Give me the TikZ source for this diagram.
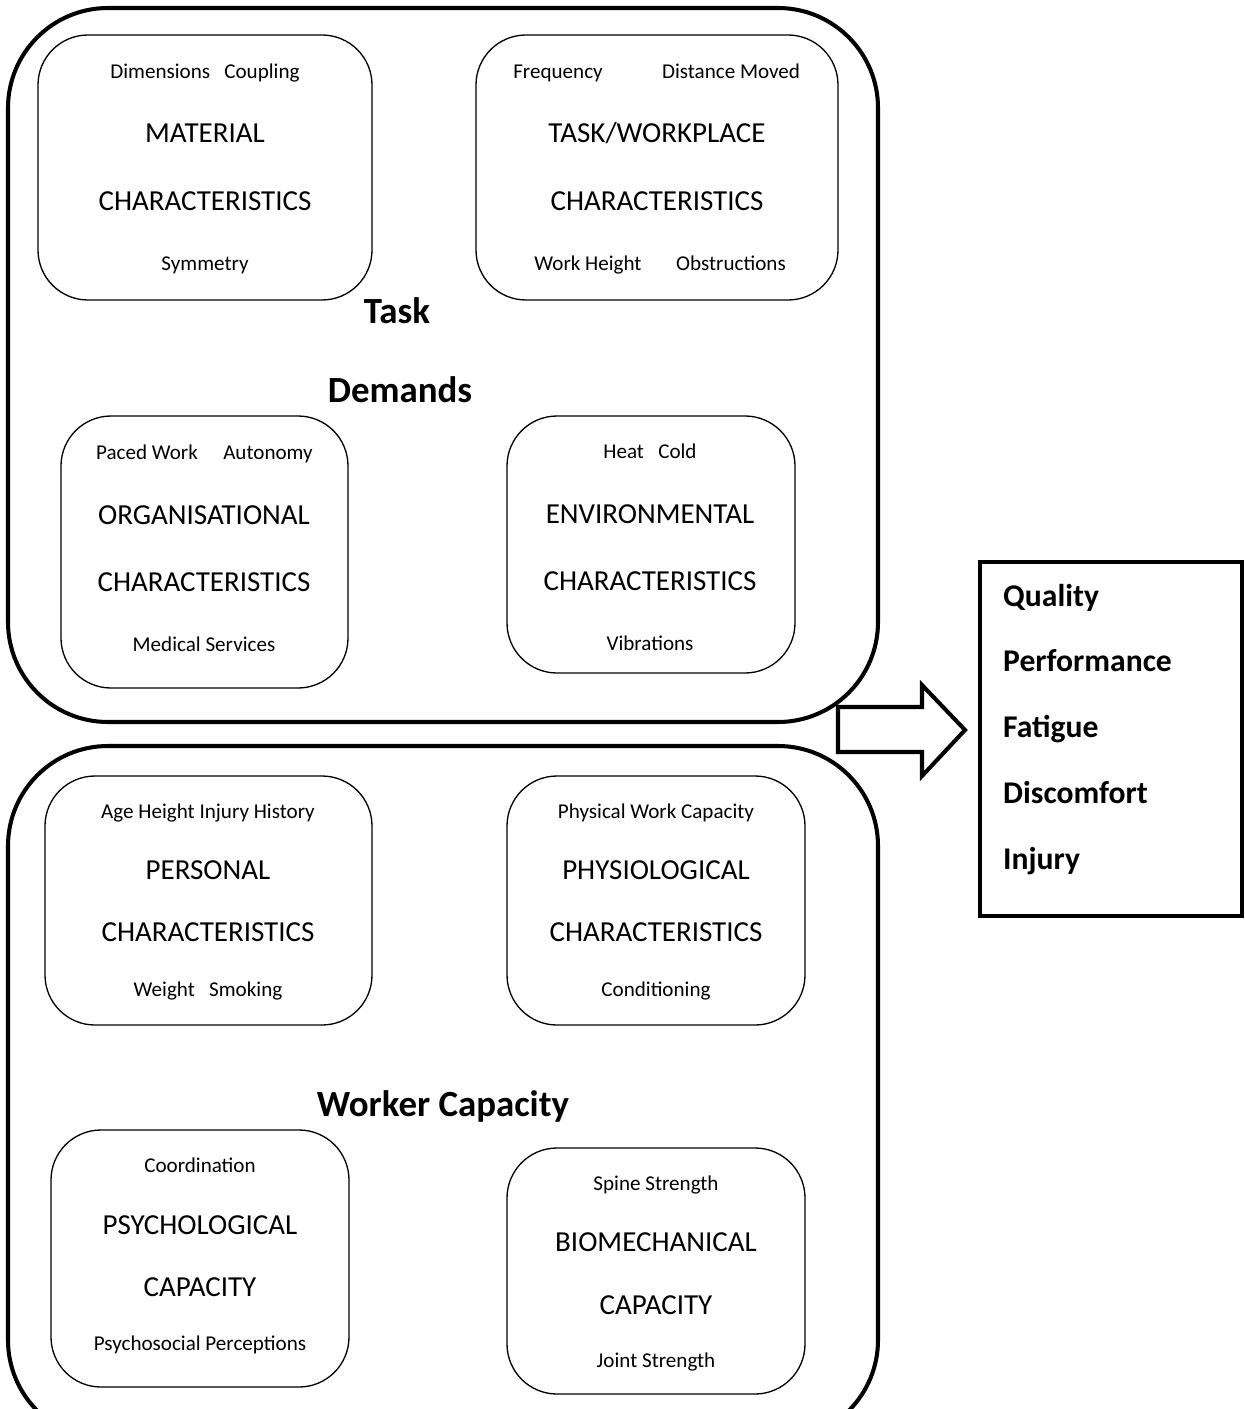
\documentclass[tikz,border=0pt]{standalone}
\usepackage{fontspec}
\setmainfont{Carlito}
\tikzset{
	outer/.style={line width=2.3pt, rounded corners=2cm},
	inner/.style={line width=0.75pt, rounded corners=1cm},
	small/.style={font=\fontsize{12}{14}\selectfont, text height=7.7pt, text depth=0pt},
	big/.style={font=\fontsize{16.5}{19}\selectfont, text height=10.6pt, text depth=0pt},
	head/.style={font=\fontsize{21}{25}\selectfont\bfseries},
	result/.style={font=\fontsize{18}{22}\selectfont\bfseries, anchor=west, text height=11.6pt, text depth=0pt}
}
\begin{document}
\begin{tikzpicture}[x=0.02cm, y=-0.02cm]
	\useasboundingbox (0,0) rectangle (1244,1409);
	\clip (0,0) rectangle (1244,1409);
	% outer groups
	\draw[outer] (8,8) rectangle (878,722);
	\draw[outer] (8,746) rectangle (878,1440);
	\node[head] (task) at (397,311) {Task};
	\node[head] (demands) at (400,390) {Demands};
	\node[head] (worker) at (443,1106) {Worker Capacity};

	% task demands
	\draw[inner] (38,35) rectangle (372,300);
	\node[small] (matA) at (205,72) {Dimensions~~~Coupling};
	\node[big] (matB) at (205,133) {MATERIAL};
	\node[big] (matC) at (205,201) {CHARACTERISTICS};
	\node[small] (matD) at (205,264) {Symmetry};

	\draw[inner] (476,35) rectangle (838,300);
	\node[small] (wpA) at (558,72) {Frequency};
	\node[small] (wpB) at (731,72) {Distance Moved};
	\node[big] (wpC) at (657,133) {TASK/WORKPLACE};
	\node[big] (wpD) at (657,201) {CHARACTERISTICS};
	\node[small] (wpE) at (588,264) {Work Height};
	\node[small] (wpF) at (731,264) {Obstructions};

	\draw[inner] (61,416) rectangle (348,688);
	\node[small] (orgA) at (147,453) {Paced Work};
	\node[small] (orgB) at (268,453) {Autonomy};
	\node[big] (orgC) at (204,515) {ORGANISATIONAL};
	\node[big] (orgD) at (204,582) {CHARACTERISTICS};
	\node[small] (orgE) at (204,645) {Medical Services};

	\draw[inner] (507,416) rectangle (795,673);
	\node[small] (envA) at (650,452) {Heat~~~Cold};
	\node[big] (envB) at (650,514) {ENVIRONMENTAL};
	\node[big] (envC) at (650,581) {CHARACTERISTICS};
	\node[small] (envD) at (650,644) {Vibrations};

	% worker capacity
	\draw[inner] (45,776) rectangle (372,1025);
	\node[small] (perA) at (208,812) {Age Height Injury History};
	\node[big] (perB) at (208,870) {PERSONAL};
	\node[big] (perC) at (208,932) {CHARACTERISTICS};
	\node[small] (perD) at (208,990) {Weight~~~Smoking};

	\draw[inner] (507,776) rectangle (805,1025);
	\node[small] (phyA) at (656,812) {Physical Work Capacity};
	\node[big] (phyB) at (656,870) {PHYSIOLOGICAL};
	\node[big] (phyC) at (656,932) {CHARACTERISTICS};
	\node[small] (phyD) at (656,990) {Conditioning};

	\draw[inner] (51,1130) rectangle (349,1387);
	\node[small] (psyA) at (200,1166) {Coordination};
	\node[big] (psyB) at (200,1225) {PSYCHOLOGICAL};
	\node[big] (psyC) at (200,1287) {CAPACITY};
	\node[small] (psyD) at (200,1344) {Psychosocial Perceptions};

	\draw[inner] (507,1148) rectangle (805,1394);
	\node[small] (bioA) at (656,1184) {Spine Strength};
	\node[big] (bioB) at (656,1242) {BIOMECHANICAL};
	\node[big] (bioC) at (656,1305) {CAPACITY};
	\node[small] (bioD) at (656,1361) {Joint Strength};

	% outcome
	\draw[line width=2.3pt] (838,707)--(922,707)--(922,685)--(965,730)--(922,776)--(922,752)--(838,752)--cycle;
	\draw[line width=2.8pt] (980,562) rectangle (1242,916);
	\foreach \t [count=\i] in {Quality, Performance, Fatigue, Discomfort, Injury}
		\node[result] (out\i) at (997, {596+65.75*(\i-1)}) {\t};
\end{tikzpicture}
\end{document}
